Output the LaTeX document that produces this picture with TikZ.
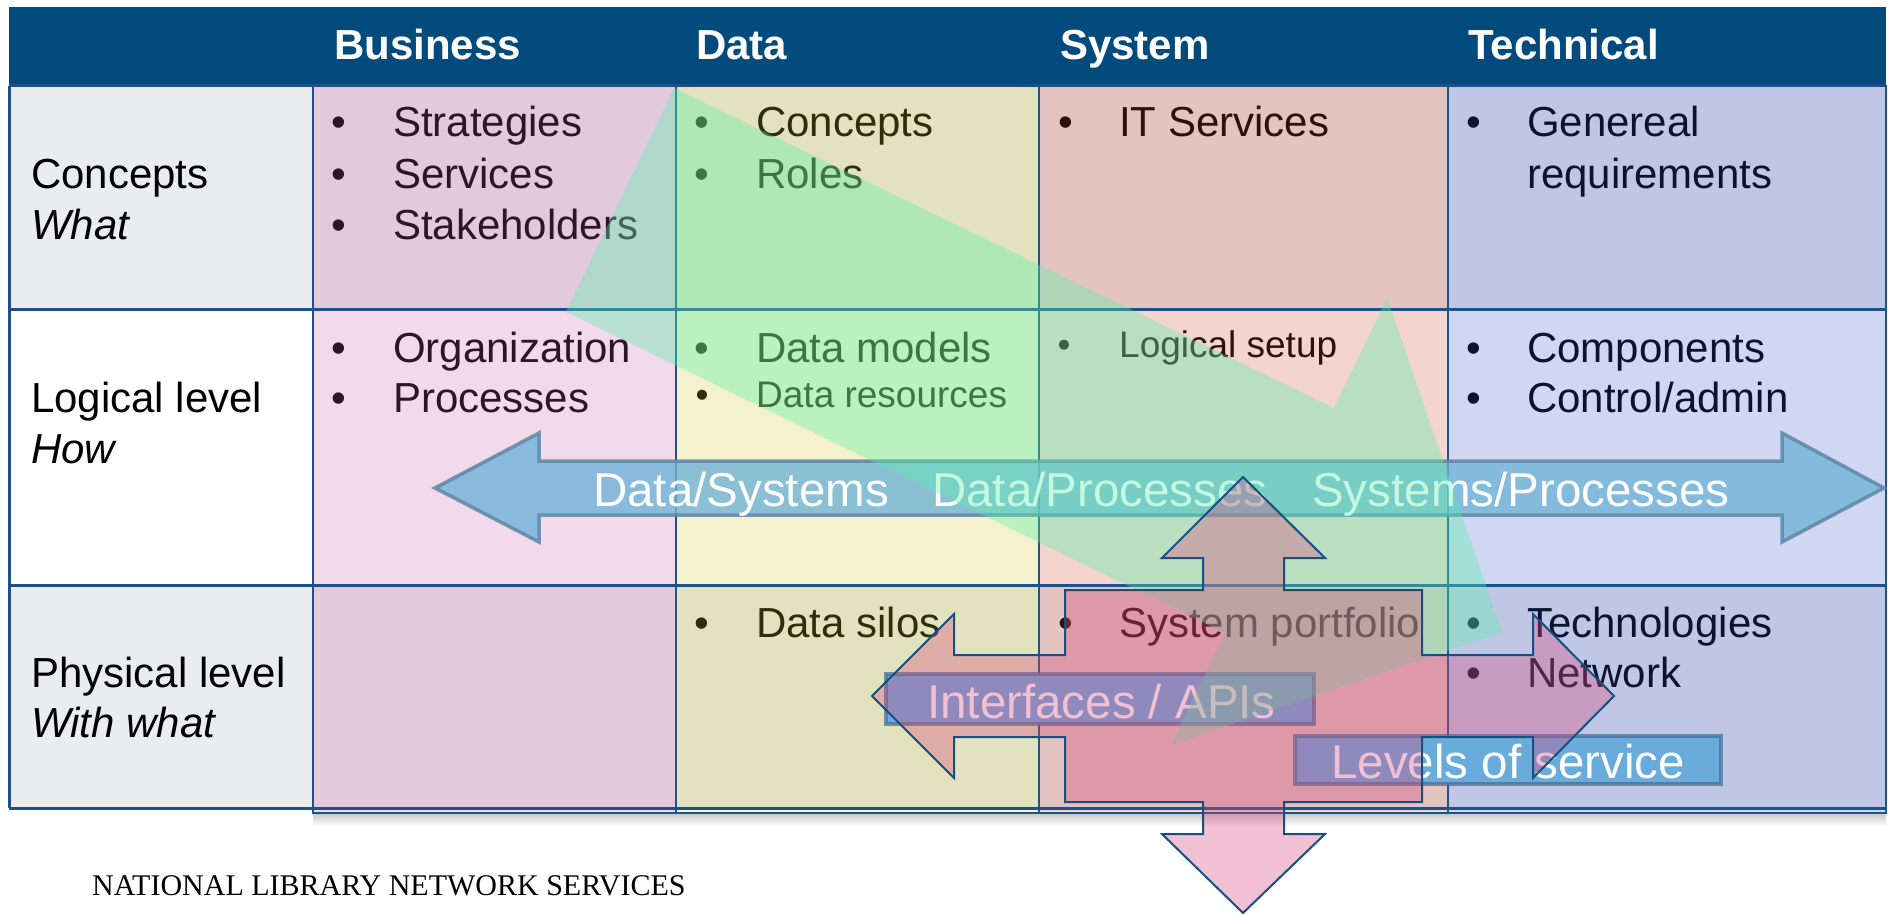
\documentclass[tikz,border=0pt]{standalone}
\usepackage{fontspec}
\setmainfont{Liberation Sans}
\newfontfamily\footerfont{Liberation Serif}

\definecolor{hdrblue}{RGB}{3,74,125}
\definecolor{gridblue}{RGB}{30,80,140}
\definecolor{paneledge}{RGB}{30,85,130}
\definecolor{rowgray}{RGB}{235,236,238}
\definecolor{inkdark}{RGB}{10,10,10}
\definecolor{bizpink}{RGB}{190,65,160}
\definecolor{datayel}{RGB}{195,190,0}
\definecolor{syssal}{RGB}{195,40,10}
\definecolor{techblue}{RGB}{20,55,195}
\definecolor{arrowblue}{RGB}{113,179,215}
\definecolor{arrowedge}{RGB}{95,135,165}
\definecolor{flowgreen}{RGB}{90,240,170}
\definecolor{crosspink}{RGB}{215,75,128}
\definecolor{crossedge}{RGB}{20,80,130}
\definecolor{tagblue}{RGB}{105,172,220}
\definecolor{tagedge}{RGB}{75,110,150}

\begin{document}
\begin{tikzpicture}[x=1pt,y=-1pt,
  hdrtext/.style={font=\fontsize{42}{50}\selectfont\bfseries, text=white, inner sep=0pt, anchor=base west},
  rowtext/.style={font=\fontsize{42}{50}\selectfont, text=black, inner sep=0pt, anchor=base west},
  rowital/.style={font=\fontsize{42}{50}\selectfont\itshape, text=black, inner sep=0pt, anchor=base west},
  celltext/.style={font=\fontsize{42}{50}\selectfont, text=inkdark, inner sep=0pt, anchor=base west},
  cellsmall/.style={font=\fontsize{37}{44}\selectfont, text=inkdark, inner sep=0pt, anchor=base west},
  bulletmark/.style={font=\fontsize{42}{50}\selectfont, text=inkdark, inner sep=0pt, anchor=base},
  bulletsmall/.style={font=\fontsize{37}{44}\selectfont, text=inkdark, inner sep=0pt, anchor=base},
  flowtext/.style={font=\fontsize{47.5}{56}\selectfont, text=white, inner sep=0pt, anchor=base west},
  panel/.style={fill opacity=0.2},
  paneline/.style={draw=paneledge, line width=2pt},
  gridline/.style={draw=gridblue, line width=3pt},
  tagbox/.style={fill=tagblue, draw=tagedge, draw opacity=0.75, line width=4pt},
]
\useasboundingbox (0,0) rectangle (1888,915);

% row bands
\fill[rowgray] (9,86) rectangle (1886,309);
\fill[white]   (9,309) rectangle (1886,585);
\fill[rowgray] (9,585) rectangle (1886,808);

% soft shadow under the coloured columns
\shade[top color=black!22, bottom color=white] (313,813) rectangle (1886,826);

% row labels
\node[rowtext] (rConcepts) at (31,188) {Concepts};
\node[rowital] (rWhat) at (31,239) {What};
\node[rowtext] (rLogical) at (31,412) {Logical level};
\node[rowital] (rHow) at (31,463) {How};
\node[rowtext] (rPhysical) at (31,687) {Physical level};
\node[rowital] (rWithWhat) at (31,737) {With what};

% Business column
\node[bulletmark] (bB1) at (339,137) {•};
\node[celltext] (tStrategies) at (393,137) {Strategies};
\node[bulletmark] (bB2) at (339,189) {•};
\node[celltext] (tServices) at (393,189) {Services};
\node[bulletmark] (bB3) at (339,239) {•};
\node[celltext] (tStakeholders) at (393,239) {Stakeholders};
\node[bulletmark] (bB4) at (339,362) {•};
\node[celltext] (tOrganization) at (393,362) {Organization};
\node[bulletmark] (bB5) at (339,412) {•};
\node[celltext] (tProcesses) at (393,412) {Processes};

% Data column
\node[bulletmark] (bD1) at (702,137) {•};
\node[celltext] (tConcepts) at (756,137) {Concepts};
\node[bulletmark] (bD2) at (702,189) {•};
\node[celltext] (tRoles) at (756,189) {Roles};
\node[bulletmark] (bD3) at (702,362) {•};
\node[celltext] (tDataModels) at (756,362) {Data models};
\node[bulletsmall] (bD4) at (702,407) {•};
\node[cellsmall] (tDataResources) at (756,407) {Data resources};
\node[bulletmark] (bD5) at (702,637) {•};
\node[celltext] (tDataSilos) at (756,637) {Data silos};

% System column
\node[bulletmark] (bS1) at (1066,137) {•};
\node[celltext] (tITServices) at (1119,137) {IT Services};
\node[bulletsmall] (bS2) at (1064,357) {•};
\node[cellsmall] (tLogicalSetup) at (1119,357) {Logical setup};
\node[bulletmark] (bS3) at (1066,637) {•};
\node[celltext] (tPortfolio) at (1119,637) {System portfolio};

% Technical column
\node[bulletmark] (bT1) at (1474,137) {•};
\node[celltext] (tGeneral) at (1527,137) {Genereal};
\node[celltext] (tRequirements) at (1527,188) {requirements};
\node[bulletmark] (bT2) at (1474,362) {•};
\node[celltext] (tComponents) at (1527,362) {Components};
\node[bulletmark] (bT3) at (1474,412) {•};
\node[celltext] (tControl) at (1527,412) {Control/admin};
\node[bulletmark] (bT4) at (1474,637) {•};
\node[celltext] (tTechnologies) at (1527,637) {Technologies};
\node[bulletmark] (bT5) at (1474,687) {•};
\node[celltext] (tNetwork) at (1527,687) {Network};

% translucent column panels
\fill[panel, bizpink]  (313,86) rectangle (676,813);
\fill[panel, datayel]  (676,86) rectangle (1039,813);
\fill[panel, syssal]   (1039,86) rectangle (1448,813);
\fill[panel, techblue] (1448,86) rectangle (1886,813);
\draw[paneline] (313,86) rectangle (676,813);
\draw[paneline] (676,86) rectangle (1039,813);
\draw[paneline] (1039,86) rectangle (1448,813);
\draw[paneline] (1448,86) rectangle (1886,813);

% table rules
\foreach \yy in {309,585,808} \draw[gridline] (9,\yy) -- (1886,\yy);
\draw[gridline] (9,86) -- (9,808);
\draw[draw=gridblue, line width=2pt] (313,86) -- (313,808);

% horizontal double arrow
\filldraw[fill=arrowblue, fill opacity=0.8, draw=arrowedge, draw opacity=0.85, line width=3.5pt, line join=miter]
  (435,488) -- (539,433) -- (539,461) -- (1782,461) -- (1782,433) -- (1884,488)
  -- (1782,542) -- (1782,515) -- (539,515) -- (539,542) -- cycle;
\node[flowtext] (fDataSys) at (593,506) {Data/Systems};
\node[flowtext] (fDataProc) at (932,506) {Data/Processes};
\node[flowtext] (fSysProc) at (1312,506) {Systems/Processes};

% label boxes
\draw[tagbox] (886,674) rectangle (1314,724);
\node[flowtext] (tagInterfaces) at (927,718) {Interfaces / APIs};
\draw[tagbox] (1295,736) rectangle (1721,784);
\node[flowtext] (tagLevels) at (1331,778) {Levels of service};

% diagonal green flow arrow
\fill[flowgreen, fill opacity=0.37]
  (674,88) -- (1334,408) -- (1387,298) -- (1502,632) -- (1171,745)
  -- (1225,633) -- (566,312) -- cycle;

% four-way arrow
\filldraw[fill=crosspink, fill opacity=0.35, draw=crossedge, line width=2pt, line join=miter]
  (1243,477) -- (1325,558) -- (1284,558) -- (1284,590) -- (1422,590) -- (1422,655)
  -- (1533,655) -- (1533,614) -- (1614,696) -- (1533,778) -- (1533,737) -- (1422,737)
  -- (1422,802) -- (1284,802) -- (1284,834) -- (1325,834) -- (1243,913) -- (1162,834)
  -- (1203,834) -- (1203,802) -- (1065,802) -- (1065,737) -- (954,737) -- (954,778)
  -- (872,696) -- (954,614) -- (954,655) -- (1065,655) -- (1065,590) -- (1203,590)
  -- (1203,558) -- (1162,558) -- cycle;

% header bar
\fill[hdrblue] (9,7) rectangle (1886,86);
\draw[gridline] (9,86) -- (1886,86);
\node[hdrtext] (hBusiness) at (334,60) {Business};
\node[hdrtext] (hData) at (696,60) {Data};
\node[hdrtext] (hSystem) at (1060,60) {System};
\node[hdrtext] (hTechnical) at (1468,60) {Technical};

% footer
\node[font=\footerfont\fontsize{30}{34}\selectfont, inner sep=0pt, anchor=base west] (footer) at (92,895) {NATIONAL LIBRARY NETWORK SERVICES};
\end{tikzpicture}
\end{document}
